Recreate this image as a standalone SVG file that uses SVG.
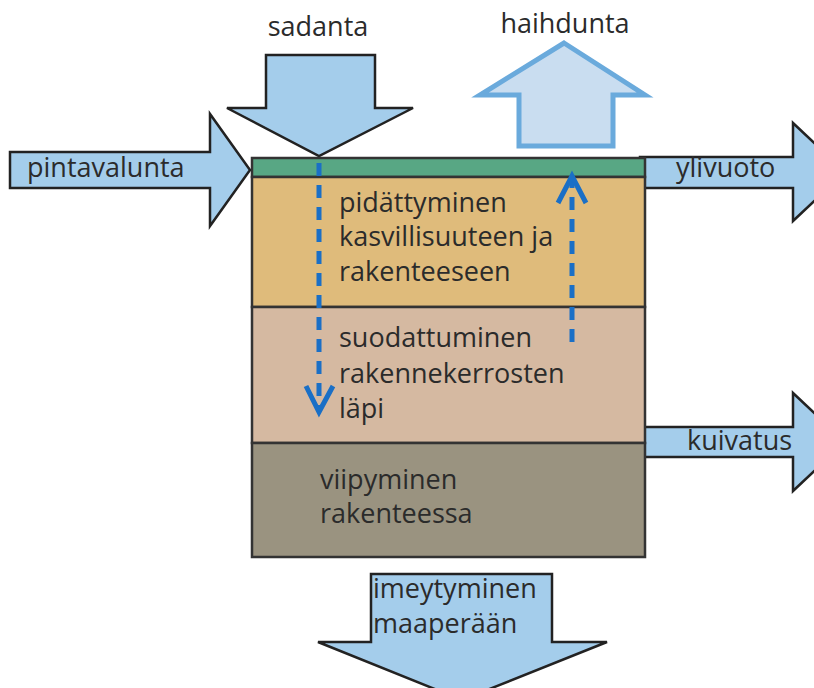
<svg xmlns="http://www.w3.org/2000/svg" width="814" height="688" viewBox="0 0 814 688">
<defs>
<style>
.arr{fill:#a4cdeb;stroke:#222;stroke-width:2.5;stroke-linejoin:miter}
.t{font-family:"Open Sans","Noto Sans",sans-serif;font-size:27px;fill:#2b2b2b}
.lay{stroke:#333;stroke-width:2.5}
.dash{fill:none;stroke:#1a6fc6;stroke-width:5;stroke-dasharray:13 9}
.head{fill:none;stroke:#1a6fc6;stroke-width:5;stroke-linejoin:miter}
</style>
</defs>
<rect width="814" height="688" fill="#fff"/>
<g id="sadanta">
<path class="arr" d="M266,55 H375 V108 H413 L319,156 L227,108 H266 Z"/>
<text class="t" x="318" y="36" text-anchor="middle">sadanta</text>
</g>
<g id="haihdunta">
<path d="M564,43 L645,95 H613 V146 H519 V95 H480 Z" fill="#c9ddf0" stroke="#6aaadc" stroke-width="5"/>
<text class="t" x="565" y="33" text-anchor="middle">haihdunta</text>
</g>
<g id="pintavalunta">
<path class="arr" d="M10,152 H210 V114 L250,170 L210,226 V188 H10 Z"/>
<text class="t" x="27" y="177">pintavalunta</text>
</g>
<g id="ylivuoto">
<path class="arr" d="M640,157 H793 V123 L845,172 L793,221 V188 H640 Z"/>
<text class="t" x="676" y="177">ylivuoto</text>
</g>
<g id="kuivatus">
<path class="arr" d="M640,427 H793 V393 L845,442 L793,491 V457 H640 Z"/>
<text class="t" x="687" y="450">kuivatus</text>
</g>
<g id="imeytyminen">
<path class="arr" d="M371,574 H552 V642 H607 L462,700 L318,642 H371 Z"/>
<text class="t" x="373" y="598">imeytyminen</text>
<text class="t" x="373" y="633">maaperään</text>
</g>
<g id="kasvillisuus">
<rect class="lay" x="252" y="158" width="393" height="19" fill="#58a784"/>
</g>
<g id="pidattyminen">
<rect class="lay" x="252" y="177" width="393" height="130" fill="#dfbb7b"/>
<text class="t" x="339" y="212">pidättyminen</text>
<text class="t" x="339" y="246">kasvillisuuteen ja</text>
<text class="t" x="339" y="281">rakenteeseen</text>
</g>
<g id="suodattuminen">
<rect class="lay" x="252" y="307" width="393" height="136" fill="#d5b9a1"/>
<text class="t" x="339" y="347">suodattuminen</text>
<text class="t" x="339" y="383">rakennekerrosten</text>
<text class="t" x="339" y="418">läpi</text>
</g>
<g id="viipyminen">
<rect class="lay" x="252" y="443" width="393" height="114" fill="#9a9380"/>
<text class="t" x="320" y="489">viipyminen</text>
<text class="t" x="320" y="523">rakenteessa</text>
</g>
<g id="connectors">
<line class="dash" x1="319" y1="163" x2="319" y2="410"/>
<path class="head" d="M306,386 L319,412 L333,386"/>
<line class="dash" x1="572" y1="342" x2="572" y2="180"/>
<path class="head" d="M558,203 L572,176 L586,203"/>
</g>
</svg>
